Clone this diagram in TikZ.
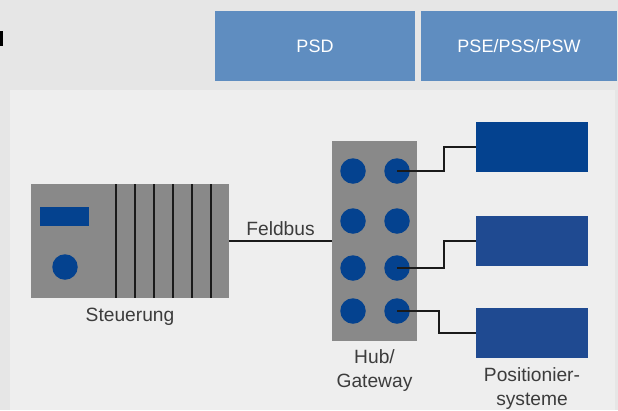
\documentclass[tikz,border=0pt]{standalone}
\usepackage{fontspec}
\setmainfont{Liberation Sans}
\usetikzlibrary{shapes}

\definecolor{bggray}{HTML}{E6E6E6}
\definecolor{panelgray}{HTML}{EEEEEE}
\definecolor{headblue}{HTML}{5F8DC0}
\definecolor{devgray}{HTML}{898989}
\definecolor{darkblue}{HTML}{04428F}
\definecolor{boxblue}{HTML}{1F4A91}
\definecolor{textgray}{HTML}{3C3C3C}
\definecolor{wiregray}{HTML}{1A1A1A}

\tikzstyle{header} = [rectangle, fill=headblue, text=white, inner sep=0, minimum width=200pt, minimum height=70pt, font=\fontsize{18}{21}\selectfont]
\tikzstyle{device} = [rectangle, fill=devgray, inner sep=0]
\tikzstyle{port} = [circle, fill=darkblue, inner sep=0, minimum size=25.5pt]
\tikzstyle{posbox} = [rectangle, fill=boxblue, inner sep=0, minimum width=112pt, minimum height=50pt]
\tikzstyle{caption} = [text=textgray, align=center, inner sep=0, font=\fontsize{19.2}{24}\selectfont]
\tikzstyle{slot} = [draw=wiregray, line width=1.4pt]
\tikzstyle{line} = [draw=wiregray, line width=2.2pt]

\begin{document}
\begin{tikzpicture}[x=1pt, y=-1pt]
%[node distance = 1cm, auto]
\useasboundingbox (0,0) rectangle (618,410);
\fill [bggray] (0,0) rectangle (618,410);
\fill [panelgray] (10,90) rectangle (615,410);
\fill [black] (0,31) rectangle (3,46);

\node [header] (psd) at (315,46) {PSD};
\node [header, right of=psd, minimum width=196pt, node distance=204pt] (pse) {PSE/PSS/PSW};

\node [device, minimum width=198pt, minimum height=114pt] (steuerung) at (130,241) {};
\node [rectangle, fill=darkblue, inner sep=0, minimum width=49pt, minimum height=19pt] (display) at (64.5,216.5) {};
\node [port] (knob) at (65,267) {};
\draw [slot] (116,184) -- (116,298);
\draw [slot] (135,184) -- (135,298);
\draw [slot] (154,184) -- (154,298);
\draw [slot] (173,184) -- (173,298);
\draw [slot] (192,184) -- (192,298);
\draw [slot] (211,184) -- (211,298);
\node [caption, below of=steuerung, node distance=76pt] (steuerunglabel) {Steuerung};

\node [device, right of=steuerung, minimum width=85pt, minimum height=200pt, node distance=244.5pt] (hub) {};
\node [port] (port11) at (353,171) {};
\node [port] (port12) at (397,171) {};
\node [port] (port21) at (353,221) {};
\node [port] (port22) at (397,221) {};
\node [port] (port31) at (353,268) {};
\node [port] (port32) at (397,268) {};
\node [port] (port41) at (353,311) {};
\node [port] (port42) at (397,311) {};
\node [caption, below of=hub, node distance=129.5pt] (hublabel) {Hub/\\Gateway};

\node [posbox, right of=hub, node distance=157.5pt] (pos2) {};
\node [posbox, fill=darkblue, above of=pos2, node distance=94pt] (pos1) {};
\node [posbox, below of=pos2, node distance=92pt] (pos3) {};
\node [caption, below of=pos3, node distance=55.5pt] (poslabel) {Positionier-\\systeme};

\path [line] (steuerung) -- node[caption, anchor=south, yshift=4pt] {Feldbus} (hub);
\path [line] (port12.center) -- ++(47,0) |- (pos1.west);
\path [line] (port32.center) -- ++(47,0) |- (pos2.west);
\path [line] (port42.center) -- ++(42,0) |- (pos3.west);

\end{tikzpicture}
\end{document}
